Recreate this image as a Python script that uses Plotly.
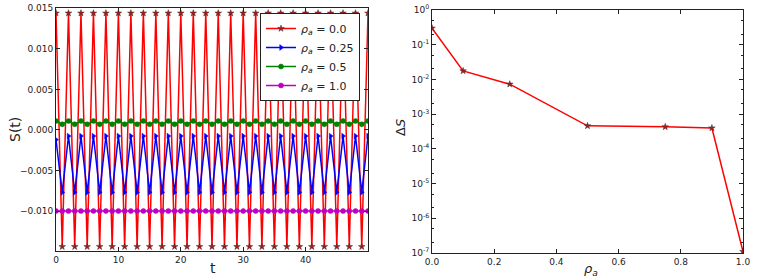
import plotly.graph_objects as go

W, H = 761, 278

# ---------------- data ----------------
t = list(range(51))

s_rho_00 = [
    0.0144, -0.0144, 0.0144, -0.0144, 0.0144, -0.0144, 0.0144, -0.0144, 0.0144, -0.0144,
    0.0144, -0.0144, 0.0144, -0.0144, 0.0144, -0.0144, 0.0144, -0.0144, 0.0144, -0.0144,
    0.0144, -0.0144, 0.0144, -0.0144, 0.0144, -0.0144, 0.0144, -0.0144, 0.0144, -0.0144,
    0.0144, -0.0144, 0.0144, -0.0144, 0.0144, -0.0144, 0.0144, -0.0144, 0.0144, -0.0144,
    0.0144, -0.0144, 0.0144, -0.0144, 0.0144, -0.0144, 0.0144, -0.0144, 0.0144, -0.0144,
    0.0144,
]
s_rho_025 = [
    -0.0012, -0.0077, -0.00075, -0.0077, -0.00075, -0.0077, -0.00075, -0.0077, -0.00075, -0.0077,
    -0.00075, -0.0077, -0.00075, -0.0077, -0.00075, -0.0077, -0.00075, -0.0077, -0.00075, -0.0077,
    -0.00075, -0.0077, -0.00075, -0.0077, -0.00075, -0.0077, -0.00075, -0.0077, -0.00075, -0.0077,
    -0.00075, -0.0077, -0.00075, -0.0077, -0.00075, -0.0077, -0.00075, -0.0077, -0.00075, -0.0077,
    -0.00075, -0.0077, -0.00075, -0.0077, -0.00075, -0.0077, -0.00075, -0.0077, -0.00075, -0.0077,
    -0.00075,
]
s_rho_05 = [
    0.0011, 0.0007, 0.0011, 0.0007, 0.0011, 0.0007, 0.0011, 0.0007, 0.0011, 0.0007,
    0.0011, 0.0007, 0.0011, 0.0007, 0.0011, 0.0007, 0.0011, 0.0007, 0.0011, 0.0007,
    0.0011, 0.0007, 0.0011, 0.0007, 0.0011, 0.0007, 0.0011, 0.0007, 0.0011, 0.0007,
    0.0011, 0.0007, 0.0011, 0.0007, 0.0011, 0.0007, 0.0011, 0.0007, 0.0011, 0.0007,
    0.0011, 0.0007, 0.0011, 0.0007, 0.0011, 0.0007, 0.0011, 0.0007, 0.0011, 0.0007,
    0.0011,
]
s_rho_10 = [
    -0.0100, -0.0100, -0.0100, -0.0100, -0.0100, -0.0100, -0.0100, -0.0100, -0.0100, -0.0100,
    -0.0100, -0.0100, -0.0100, -0.0100, -0.0100, -0.0100, -0.0100, -0.0100, -0.0100, -0.0100,
    -0.0100, -0.0100, -0.0100, -0.0100, -0.0100, -0.0100, -0.0100, -0.0100, -0.0100, -0.0100,
    -0.0100, -0.0100, -0.0100, -0.0100, -0.0100, -0.0100, -0.0100, -0.0100, -0.0100, -0.0100,
    -0.0100, -0.0100, -0.0100, -0.0100, -0.0100, -0.0100, -0.0100, -0.0100, -0.0100, -0.0100,
    -0.0100,
]
legend_labels = ["0.0", "0.25", "0.5", "1.0"]

rho_a = [0.0, 0.1, 0.25, 0.5, 0.75, 0.9, 1.0]
delta_S = [0.30, 0.0176, 0.0073, 4.6e-4, 4.3e-4, 4.0e-4, 1.1e-7]

left_xticks = [0, 10, 20, 30, 40, 50]
left_xticklabels = ["0", "10", "20", "30", "40", ""]
left_yticks = [-0.010, -0.005, 0.000, 0.005, 0.010, 0.015]
right_xticks = [0.0, 0.2, 0.4, 0.6, 0.8, 1.0]
right_yticks = [1e-7, 1e-6, 1e-5, 1e-4, 1e-3, 1e-2, 1e-1, 1e0]
right_yticklabels = ["10<sup>-7</sup>", "10<sup>-6</sup>", "10<sup>-5</sup>", "10<sup>-4</sup>",
                     "10<sup>-3</sup>", "10<sup>-2</sup>", "10<sup>-1</sup>", "10<sup>0</sup>"]

# ---------------- figure ----------------
FONT = "DejaVu Sans"
fig = go.Figure()

series = [
    (s_rho_00, "#ff0000", "star", 5, "#b01818"),
    (s_rho_025, "#0000ff", "triangle-right", 5, "#0000ff"),
    (s_rho_05, "#008000", "circle", 5, "#008000"),
    (s_rho_10, "#bf00bf", "circle", 5, "#bf00bf"),
]
for (vals, col, sym, msz, mcol), lab in zip(series, legend_labels):
    fig.add_trace(go.Scatter(
        x=t, y=vals, mode="lines+markers",
        name=f"<i>ρ</i><sub><i>a</i></sub> = {lab}",
        line=dict(color=col, width=1.5),
        marker=dict(symbol=sym, size=msz, color=mcol,
                    line=dict(color="#333333" if sym == "star" else col, width=0.5)),
        xaxis="x", yaxis="y",
    ))

fig.add_trace(go.Scatter(
    x=rho_a, y=delta_S, mode="lines+markers", showlegend=False,
    line=dict(color="#ff0000", width=1.5),
    marker=dict(symbol="star", size=5, color="#b01818", line=dict(color="#333333", width=0.5)),
    xaxis="x2", yaxis="y2",
))

def px_x(p):
    return p / W

def px_y(p):
    return 1 - p / H

axis_common = dict(
    showline=True, linecolor="#222222", linewidth=1, mirror="ticks",
    ticks="inside", ticklen=4, tickcolor="#222222", tickwidth=1,
    showgrid=False, zeroline=False, automargin=False,
    tickfont=dict(family=FONT, size=9, color="#222222"),
)

fig.update_layout(
    width=W, height=H,
    margin=dict(l=0, r=0, t=0, b=0),
    paper_bgcolor="white", plot_bgcolor="white",
    font=dict(family=FONT, color="#222222"),
    xaxis=dict(domain=[px_x(56), px_x(368)], range=[0, 50],
               tickvals=left_xticks, ticktext=left_xticklabels, anchor="y", **axis_common),
    yaxis=dict(domain=[px_y(251), px_y(8.3)], range=[-0.01493, 0.015],
               tickvals=left_yticks, tickformat=".3f", anchor="x", **axis_common),
    xaxis2=dict(domain=[px_x(432), px_x(743)], range=[0, 1],
                tickvals=right_xticks, tickformat=".1f", anchor="y2", **axis_common),
    yaxis2=dict(domain=[px_y(253), px_y(10)], type="log", range=[-7, 0],
                tickvals=right_yticks, ticktext=right_yticklabels, anchor="x2",
                minor=dict(ticks="inside", ticklen=2, tickcolor="#222222", showgrid=False),
                **axis_common),
    legend=dict(
        x=px_x(360), xanchor="right", y=px_y(13), yanchor="top",
        bgcolor="white", bordercolor="#222222", borderwidth=1,
        font=dict(family=FONT, size=11, color="#222222"),
        tracegroupgap=0, itemwidth=30,
    ),
    showlegend=True,
    annotations=[
        dict(text="S(t)", x=px_x(15), y=px_y(130), xref="paper", yref="paper",
             xanchor="center", yanchor="middle",
             showarrow=False, textangle=-90, font=dict(family=FONT, size=14)),
        dict(text="t", x=px_x(213), y=px_y(268), xref="paper", yref="paper",
             xanchor="center", yanchor="middle",
             showarrow=False, font=dict(family=FONT, size=14)),
        dict(text="Δ<i>S</i>", x=px_x(400), y=px_y(128), xref="paper", yref="paper",
             xanchor="center", yanchor="middle",
             showarrow=False, textangle=-90, font=dict(family=FONT, size=13)),
        dict(text="<i>ρ</i><sub><i>a</i></sub>", x=px_x(591), y=px_y(269), xref="paper", yref="paper",
             xanchor="center", yanchor="middle",
             showarrow=False, font=dict(family=FONT, size=13)),
    ],
)

fig.write_html("out.html", post_script="document.body.style.margin='0';",
               config={"displayModeBar": False})
